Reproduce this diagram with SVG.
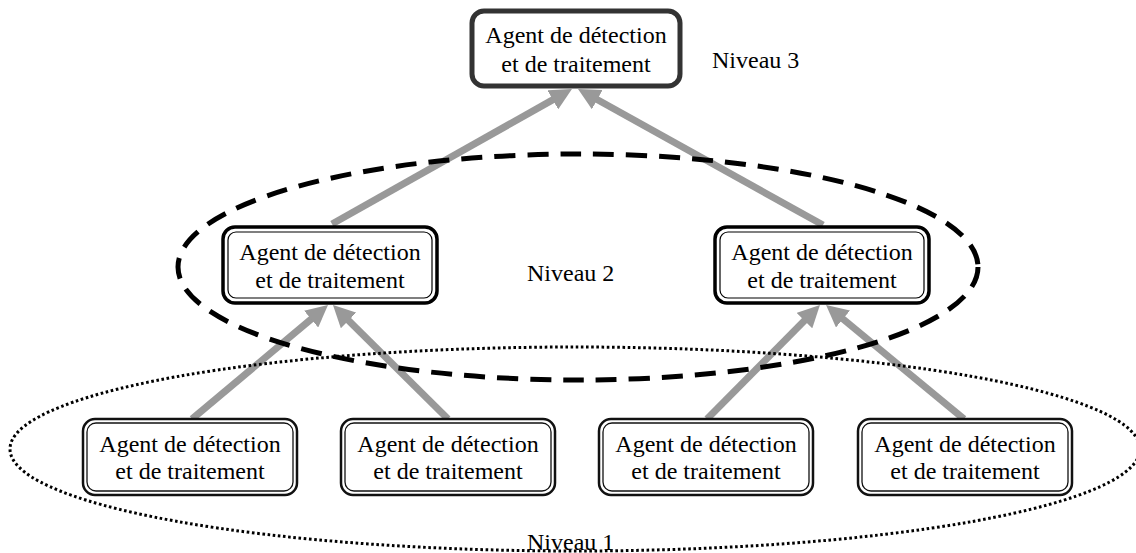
<svg xmlns="http://www.w3.org/2000/svg" width="1136" height="553" viewBox="0 0 1136 553">
<style>
.t{font-family:"Liberation Serif","Times New Roman",serif;font-size:24px;fill:#000;text-anchor:middle}
.lbl{font-family:"Liberation Serif","Times New Roman",serif;font-size:24px;fill:#000}
.arr{stroke:#999999;stroke-width:7;fill:none;marker-end:url(#ah)}
.b3{fill:#fff;stroke:#333;stroke-width:5}
.b2o{fill:#fff;stroke:#000;stroke-width:3.5}
.b2i{fill:none;stroke:#000;stroke-width:1.2}
.b1o{fill:#fff;stroke:#111;stroke-width:2.5}
.b1i{fill:none;stroke:#111;stroke-width:1.3}
</style>
<defs>
<marker id="ah" viewBox="0 0 22 22" refX="10" refY="11" markerWidth="22" markerHeight="22" markerUnits="userSpaceOnUse" orient="auto">
<path d="M0,0 L22,11 L0,22 z" fill="#999999"/>
</marker>
</defs>
<rect width="1136" height="553" fill="#fff"/>
<g id="connectors">
<path class="arr" d="M192,419 L318.8,312.7"/>
<path class="arr" d="M448,419 L341.5,313.4"/>
<path class="arr" d="M707,419 L811.5,313.5"/>
<path class="arr" d="M964,419 L835.3,312.6"/>
<path class="arr" d="M332,224 L561.5,94.9"/>
<path class="arr" d="M823,225 L588.5,94.8"/>
</g>
<g id="groups">
<ellipse cx="578" cy="267" rx="400" ry="113" fill="none" stroke="#000" stroke-width="5" stroke-dasharray="21 12"/>
<ellipse cx="575" cy="449" rx="565" ry="102" fill="none" stroke="#000" stroke-width="3" stroke-dasharray="2.6 2.6"/>
</g>
<g id="n3">
<rect class="b3" x="472" y="11" width="208" height="75" rx="12"/>
<text class="t" x="576" y="43">Agent de détection</text>
<text class="t" x="576" y="72">et de traitement</text>
</g>
<g id="n2a">
<rect class="b2o" x="223" y="227" width="214" height="76" rx="12"/>
<rect class="b2i" x="228" y="232" width="204" height="66" rx="8"/>
<text class="t" x="330" y="260">Agent de détection</text>
<text class="t" x="330" y="288">et de traitement</text>
</g>
<g id="n2b">
<rect class="b2o" x="715" y="227" width="214" height="76" rx="12"/>
<rect class="b2i" x="720" y="232" width="204" height="66" rx="8"/>
<text class="t" x="822" y="260">Agent de détection</text>
<text class="t" x="822" y="288">et de traitement</text>
</g>
<g id="n1a">
<rect class="b1o" x="83" y="419" width="214" height="76" rx="12"/>
<rect class="b1i" x="87" y="423" width="206" height="68" rx="9"/>
<text class="t" x="190" y="452">Agent de détection</text>
<text class="t" x="190" y="479">et de traitement</text>
</g>
<g id="n1b">
<rect class="b1o" x="341" y="419" width="214" height="76" rx="12"/>
<rect class="b1i" x="345" y="423" width="206" height="68" rx="9"/>
<text class="t" x="448" y="452">Agent de détection</text>
<text class="t" x="448" y="479">et de traitement</text>
</g>
<g id="n1c">
<rect class="b1o" x="599" y="419" width="214" height="76" rx="12"/>
<rect class="b1i" x="603" y="423" width="206" height="68" rx="9"/>
<text class="t" x="706" y="452">Agent de détection</text>
<text class="t" x="706" y="479">et de traitement</text>
</g>
<g id="n1d">
<rect class="b1o" x="858" y="419" width="214" height="76" rx="12"/>
<rect class="b1i" x="862" y="423" width="206" height="68" rx="9"/>
<text class="t" x="965" y="452">Agent de détection</text>
<text class="t" x="965" y="479">et de traitement</text>
</g>
<g id="labels">
<text class="lbl" x="712" y="68">Niveau 3</text>
<text class="lbl" x="527" y="281">Niveau 2</text>
<text class="lbl" x="527" y="550">Niveau 1</text>
</g>
</svg>
